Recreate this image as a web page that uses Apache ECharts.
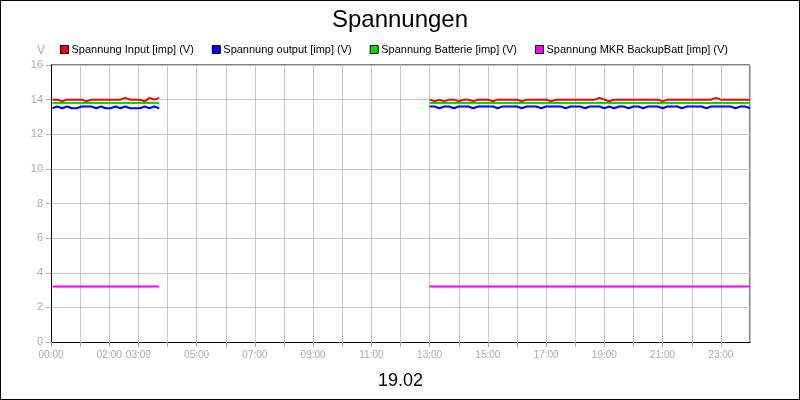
<!DOCTYPE html>
<html><head><meta charset="utf-8">
<script src="https://cdn.jsdelivr.net/npm/echarts@6/dist/echarts.min.js"></script>
<style>html,body{margin:0;padding:0;}#c{width:798px;height:398px;border:1px solid #000;}</style>
</head><body><div id="c"></div>
<script>
const seriesNames = ["Spannung Input [imp] (V)","Spannung output [imp] (V)","Spannung Batterie [imp] (V)","Spannung MKR BackupBatt [imp] (V)"];
const colors = ["#ff0000","#0000ff","#00e000","#ff00ff"];
const xLabelsShown = ["00:00","02:00","03:00","05:00","07:00","09:00","11:00","13:00","15:00","17:00","19:00","21:00","23:00"];
// sample times (hours), 10-minute steps
const seg1Start = 0.05, seg2Start = 13, stepH = 1/6;
const input1 = [14.0,14.0,13.9,14.0,14.0,14.0,14.0,13.9,14.0,14.0,14.0,14.0,14.0,14.0,14.0,14.1,14.0,14.0,14.0,13.9,14.1,14.0,14.1];
const output1 = [13.5,13.6,13.5,13.6,13.5,13.5,13.6,13.6,13.6,13.5,13.6,13.5,13.5,13.6,13.5,13.6,13.5,13.5,13.5,13.6,13.5,13.6,13.5];
const batt1 = [13.8,13.8,13.8,13.8,13.8,13.8,13.8,13.8,13.8,13.8,13.8,13.8,13.8,13.8,13.8,13.8,13.8,13.8,13.8,13.8,13.8,13.8,13.8];
const mkr1 = [3.2,3.2,3.2,3.2,3.2,3.2,3.2,3.2,3.2,3.2,3.2,3.2,3.2,3.2,3.2,3.2,3.2,3.2,3.2,3.2,3.2,3.2,3.2];
const input2 = [14.0,13.9,14.0,13.9,14.0,14.0,13.9,14.0,14.0,13.9,14.0,14.0,14.0,13.9,14.0,14.0,14.0,14.0,14.0,13.9,14.0,14.0,14.0,14.0,14.0,13.9,14.0,14.0,14.0,14.0,14.0,14.0,14.0,14.0,14.0,14.1,14.0,13.9,14.0,14.0,14.0,14.0,14.0,14.0,14.0,14.0,14.0,14.0,13.9,14.0,14.0,14.0,14.0,14.0,14.0,14.0,14.0,14.0,14.0,14.1,14.0,14.0,14.0,14.0,14.0,14.0,14.0];
const output2 = [13.6,13.6,13.5,13.6,13.6,13.5,13.6,13.6,13.6,13.5,13.6,13.6,13.6,13.6,13.5,13.6,13.6,13.6,13.6,13.5,13.6,13.6,13.6,13.5,13.6,13.6,13.6,13.6,13.5,13.6,13.6,13.6,13.5,13.6,13.6,13.6,13.5,13.6,13.5,13.6,13.6,13.5,13.6,13.6,13.5,13.6,13.6,13.6,13.5,13.6,13.6,13.6,13.5,13.6,13.6,13.6,13.6,13.5,13.6,13.6,13.6,13.6,13.6,13.5,13.6,13.6,13.5];
const batt2 = new Array(67).fill(13.8);
const mkr2 = new Array(67).fill(3.2);

function build(a, b) {
  const out = a.map((v, i) => [seg1Start + i * stepH, v]);
  out.push([8, null]);
  b.forEach((v, i) => out.push([seg2Start + i * stepH, v]));
  return out;
}
const data = [build(input1, input2), build(output1, output2), build(batt1, batt2), build(mkr1, mkr2)];

const chart = echarts.init(document.getElementById('c'));
chart.setOption({
  animation: false,
  backgroundColor: '#fff',
  title: { text: 'Spannungen', left: 'center', top: 2, textStyle: { fontFamily: 'Liberation Sans', fontSize: 24, fontWeight: 'normal', color: '#000' } },
  legend: {
    top: 38, left: 54, itemGap: 18, itemWidth: 8, itemHeight: 8, icon: 'rect',
    textStyle: { fontFamily: 'Liberation Sans', fontSize: 11, color: '#000', padding: [0,0,0,-2] },
    data: seriesNames.map((n, i) => ({ name: n, itemStyle: { color: colors[i], borderColor: '#000', borderWidth: 1 } }))
  },
  grid: { left: 50, right: 49, top: 64, bottom: 57 },
  xAxis: {
    type: 'value', min: 0, max: 24, interval: 1,
    axisLine: { lineStyle: { color: '#000', width: 1 } },
    axisTick: { show: true, lineStyle: { color: '#aaa' } },
    splitLine: { show: true, lineStyle: { color: '#c8c8c8' } },
    axisLabel: { color: '#aaa', fontFamily: 'Liberation Sans', fontSize: 10, showMaxLabel: false,
      formatter: v => { const s = String(v).padStart(2,'0') + ':00'; return xLabelsShown.includes(s) ? s : ''; } },
    name: '19.02', nameLocation: 'middle', nameGap: 30,
    nameTextStyle: { fontFamily: 'Liberation Sans', fontSize: 18, color: '#000' }
  },
  yAxis: {
    type: 'value', min: 0, max: 16, interval: 2,
    name: 'V', nameLocation: 'end', nameGap: 8,
    nameTextStyle: { color: '#aaa', fontSize: 12, padding: [0, 20, 0, 0] },
    axisLine: { show: true, lineStyle: { color: '#000' } },
    axisTick: { show: true, lineStyle: { color: '#aaa' } },
    splitLine: { lineStyle: { color: '#c8c8c8' } },
    axisLabel: { color: '#aaa', fontSize: 11, fontFamily: 'Liberation Sans' }
  },
  series: seriesNames.map((n, i) => ({
    name: n, type: 'line', data: data[i], showSymbol: false, connectNulls: false,
    lineStyle: { color: colors[i], width: 2 }, itemStyle: { color: colors[i] }, z: 10 - i
  })),
  graphic: [
    { type: 'line', shape: { x1: 50, y1: 64, x2: 749, y2: 64 }, style: { stroke: '#000', lineWidth: 1 } },
    { type: 'line', shape: { x1: 749, y1: 64, x2: 749, y2: 341 }, style: { stroke: '#000', lineWidth: 1 } }
  ]
});
</script></body></html>
